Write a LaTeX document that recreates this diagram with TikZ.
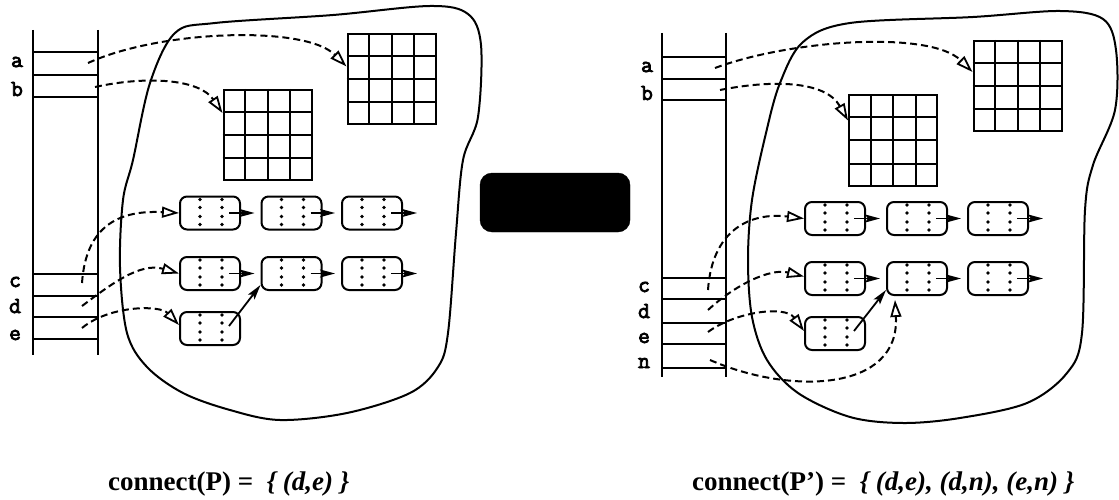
\documentclass[tikz,border=0pt]{standalone}
\usepackage{fontspec}
\newfontfamily\capfont{Liberation Serif}
\newfontfamily\lblfont[AutoFakeBold=3.5]{Latin Modern Mono}
\usetikzlibrary{arrows.meta,calc}

\tikzset{
  wire/.style={line width=2pt},
  blob/.style={line width=2pt, line join=round},
  cell/.style={draw, line width=2pt, rounded corners=7pt,
    minimum width=60pt, minimum height=33pt, inner sep=0pt},
  matrixbox/.style={draw, line width=2pt, minimum width=88pt,
    minimum height=90pt, inner sep=0pt},
  ptr/.style={line width=2pt, dash pattern=on 7pt off 4pt,
    -{Triangle[open,length=17pt,width=11pt,line width=1.8pt]}},
  link/.style={line width=1.8pt, -{Stealth[length=15pt,width=8pt,inset=3pt]}},
  slotlabel/.style={font=\lblfont\bfseries\fontsize{23}{23}\selectfont,
    anchor=base, inner sep=0pt},
  caption/.style={font=\capfont\bfseries\fontsize{27}{30}\selectfont,
    anchor=base west, inner sep=0pt},
}

% dotted fields inside a list cell
\newcommand{\celldots}[1]{%
  \foreach \dx in {21,43}{
    \foreach \dy in {4,12,21,29}{
      \fill ($(#1.north west)+(\dx,\dy)$) circle (1.8pt);
    }
  }
}
% 4x4 grid inside a matrix node
\newcommand{\gridlines}[1]{%
  \foreach \i in {1,2,3}{
    \draw[line width=2pt] ($(#1.north west)!\i/4!(#1.north east)$) --
      ($(#1.south west)!\i/4!(#1.south east)$);
    \draw[line width=2pt] ($(#1.north west)!\i/4!(#1.south west)$) --
      ($(#1.north east)!\i/4!(#1.south east)$);
  }
}

\begin{document}
\begin{tikzpicture}[x=1pt,y=-1pt]
\useasboundingbox (0,0) rectangle (1119,500);

% ================= left heap P =================
\draw[blob] plot[smooth cycle, tension=0.55] coordinates {
  (175,33) (215,23) (333,15) (430,6) (468,14) (481,45) (478,117)
  (463,160) (456,233) (448,333) (438,367) (410,393) (347,413) (280,420)
  (230,410) (183,393) (147,367) (127,333) (120,267) (123,200) (133,160)
  (150,83)};

% stack of roots
\draw[wire] (33,30) -- (33,355);
\draw[wire] (98,30) -- (98,355);
\foreach \yy in {52,75,97,274,296,317,339}
  \draw[wire] (33,\yy) -- (98,\yy);
\node[slotlabel] (la) at (17,67) {a};
\node[slotlabel] (lb) at (17,96) {b};
\node[slotlabel] (lc) at (15,287) {c};
\node[slotlabel] (ld) at (15,313) {d};
\node[slotlabel] (le) at (15,340) {e};
\coordinate (sa) at (88,63);
\coordinate (sb) at (95,87);
\coordinate (sc) at (82,283);
\coordinate (sd) at (82,306);
\coordinate (se) at (82,328);

% matrices
\node[matrixbox] (LG1) at (391.5,79.5) {};
\node[matrixbox] (LG2) at (267.5,135) {};
\gridlines{LG1}
\gridlines{LG2}

% list cells
\node[cell] (L11) at (210,213) {};
\node[cell] (L12) at (291.5,213) {};
\node[cell] (L13) at (372,213) {};
\node[cell] (L21) at (210,273.5) {};
\node[cell] (L22) at (291.5,273.5) {};
\node[cell] (L23) at (372,273.5) {};
\node[cell] (L31) at (210,328.5) {};
\foreach \n in {L11,L12,L13,L21,L22,L23,L31} {\celldots{\n}}
\coordinate (Lend1) at (417,213);
\coordinate (Lend2) at (417,273.5);

\draw[link] ($(L11.west)+(50,0)$) -- ([xshift=-6pt]L12.west);
\draw[link] ($(L12.west)+(50,0)$) -- ([xshift=-6pt]L13.west);
\draw[link] ($(L13.west)+(50,0)$) -- (Lend1);
\draw[link] ($(L21.west)+(50,0)$) -- ([xshift=-6pt]L22.west);
\draw[link] ($(L22.west)+(50,0)$) -- ([xshift=-6pt]L23.west);
\draw[link] ($(L23.west)+(50,0)$) -- (Lend2);
\draw[link] ($(L31.north west)+(50,15)$) -- ($(L22.south west)+(0,-6)$);

% root pointers
\draw[ptr] (sa) .. controls (160,30) and (305,25) .. ($(LG1.north west)+(0,33)$);
\draw[ptr] (sb) .. controls (150,75) and (200,80) .. ($(LG2.north west)+(0,24)$);
\draw[ptr] (sc) .. controls (86,225) and (120,210) .. (L11.west);
\draw[ptr] (sd) .. controls (110,285) and (140,262) .. (L21.west);
\draw[ptr] (se) .. controls (110,305) and (160,305) .. ($(L31.north west)+(0,14)$);

% ================= transformation box =================
\node[draw, fill=black, rounded corners=12pt, minimum width=150pt,
  minimum height=59pt, inner sep=0pt] (step1) at (555,202.5) {};

% ================= right heap P' =================
\draw[blob] plot[smooth cycle, tension=0.55] coordinates {
  (803,42) (850,23) (973,17) (1060,11) (1103,19) (1116,50) (1115,110)
  (1093,165) (1085,210) (1082,333) (1067,373) (1027,403) (960,418)
  (903,423) (850,417) (798,393) (767,360) (752,317) (748,260) (752,200)
  (766,133) (780,83)};

\draw[wire] (662,33) -- (662,377);
\draw[wire] (726,33) -- (726,377);
\foreach \yy in {57,79,100,278,299,323,344,368}
  \draw[wire] (662,\yy) -- (726,\yy);
\node[slotlabel] (ra) at (647,72) {a};
\node[slotlabel] (rb) at (647,100) {b};
\node[slotlabel] (rc) at (644,292) {c};
\node[slotlabel] (rd) at (644,318) {d};
\node[slotlabel] (re) at (644,343) {e};
\node[slotlabel] (rn) at (644,368) {n};
\coordinate (ta) at (715,68);
\coordinate (tb) at (720,90);
\coordinate (tc) at (708,290);
\coordinate (td) at (708,310);
\coordinate (te) at (708,332);
\coordinate (tn) at (710,360);

\node[matrixbox] (RG1) at (1017.5,86) {};
\node[matrixbox] (RG2) at (893,140.5) {};
\gridlines{RG1}
\gridlines{RG2}

\node[cell] (R11) at (835,218.5) {};
\node[cell] (R12) at (917,218.5) {};
\node[cell] (R13) at (998,218.5) {};
\node[cell] (R21) at (835,278.5) {};
\node[cell] (R22) at (917,278.5) {};
\node[cell] (R23) at (998,278.5) {};
\node[cell] (R31) at (835,333.5) {};
\foreach \n in {R11,R12,R13,R21,R22,R23,R31} {\celldots{\n}}
\coordinate (Rend1) at (1043,218.5);
\coordinate (Rend2) at (1043,278.5);

\draw[link] ($(R11.west)+(50,0)$) -- ([xshift=-6pt]R12.west);
\draw[link] ($(R12.west)+(50,0)$) -- ([xshift=-6pt]R13.west);
\draw[link] ($(R13.west)+(50,0)$) -- (Rend1);
\draw[link] ($(R21.west)+(50,0)$) -- ([xshift=-6pt]R22.west);
\draw[link] ($(R22.west)+(50,0)$) -- ([xshift=-6pt]R23.west);
\draw[link] ($(R23.west)+(50,0)$) -- (Rend2);
\draw[link] ($(R31.north west)+(50,15)$) -- ($(R22.south west)+(0,-6)$);

\draw[ptr] (ta) .. controls (790,40) and (930,30) .. ($(RG1.north west)+(0,32)$);
\draw[ptr] (tb) .. controls (770,80) and (825,80) .. ($(RG2.north west)+(0,26)$);
\draw[ptr] (tc) .. controls (712,230) and (750,212) .. (R11.west);
\draw[ptr] (td) .. controls (735,285) and (770,268) .. ($(R21.west)+(0,-2)$);
\draw[ptr] (te) .. controls (735,312) and (785,305) .. ($(R31.north west)+(0,15)$);
\draw[ptr] (tn) .. controls (790,395) and (900,392) .. ($(R22.south west)+(9,4)$);

% ================= captions =================
\node[caption] (capL) at (108,490) {connect(P) =\hspace{0.5em}\itshape\{ (d,e) \}};
\node[caption] (capR) at (692,490) {connect(P’) =\hspace{0.5em}\itshape\{ (d,e), (d,n), (e,n) \}};
\end{tikzpicture}
\end{document}
